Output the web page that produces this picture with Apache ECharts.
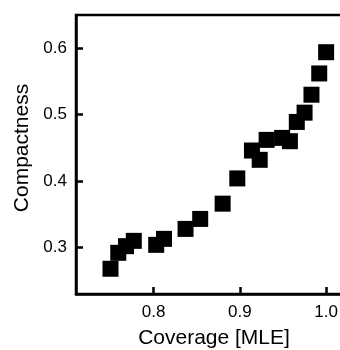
<!DOCTYPE html>
<html>
<head>
<meta charset="utf-8">
<script src="https://cdn.jsdelivr.net/npm/echarts@6/dist/echarts.min.js"></script>
<style>
  html, body { margin: 0; padding: 0; background: #fff; }
  #chart { width: 340px; height: 350px; }
</style>
</head>
<body>
<div id="chart"></div>
<script>
// Coverage (MLE) vs. compactness measurements
const coverage = [0.750, 0.759, 0.768, 0.777, 0.803, 0.812, 0.837, 0.854, 0.880, 0.897,
                  0.914, 0.923, 0.931, 0.949, 0.958, 0.966, 0.975, 0.983, 0.992, 1.000];
const compactness = [0.268, 0.292, 0.302, 0.310, 0.304, 0.313, 0.328, 0.343, 0.366, 0.404,
                     0.446, 0.432, 0.462, 0.465, 0.460, 0.489, 0.503, 0.530, 0.562, 0.594];
const xTicks = [0.8, 0.9, 1.0];
const yTicks = [0.3, 0.4, 0.5, 0.6];

const points = coverage.map((c, i) => [c, compactness[i]]);
const font = 'Liberation Sans, Arial, Helvetica, sans-serif';

const chart = echarts.init(document.getElementById('chart'));
chart.setOption({
  animation: false,
  grid: {
    left: 76, top: 15, right: -12, bottom: 56,
    outerBoundsMode: 'none', containLabel: false,
    show: true, borderColor: '#000', borderWidth: 2.5
  },
  xAxis: {
    type: 'value', min: 0.71, max: 1.03,
    name: 'Coverage [MLE]', nameLocation: 'middle', nameGap: 34,
    nameTextStyle: { fontFamily: font, fontSize: 21, color: '#000' },
    axisLine: { show: true, lineStyle: { color: '#000', width: 2.5 } },
    axisTick: { show: true, inside: true, length: 7, lineStyle: { color: '#000', width: 2.5 }, customValues: xTicks },
    axisLabel: { customValues: xTicks, formatter: v => v.toFixed(1), fontFamily: font, fontSize: 17, color: '#000', margin: 10 },
    splitLine: { show: false }
  },
  yAxis: {
    type: 'value', min: 0.23, max: 0.65,
    name: 'Compactness', nameLocation: 'middle', nameGap: 42,
    nameTextStyle: { fontFamily: font, fontSize: 21, color: '#000', padding: [0, 0, 0, 13] },
    axisLine: { show: true, lineStyle: { color: '#000', width: 2.5 } },
    axisTick: { show: true, inside: true, length: 7, lineStyle: { color: '#000', width: 2.5 }, customValues: yTicks },
    axisLabel: { customValues: yTicks, formatter: v => v.toFixed(1), fontFamily: font, fontSize: 17, color: '#000', margin: 9 },
    splitLine: { show: false }
  },
  series: [{
    type: 'scatter',
    data: points,
    symbol: 'rect',
    symbolSize: 16,
    itemStyle: { color: '#000', opacity: 1 }
  }]
});
</script>
</body>
</html>
